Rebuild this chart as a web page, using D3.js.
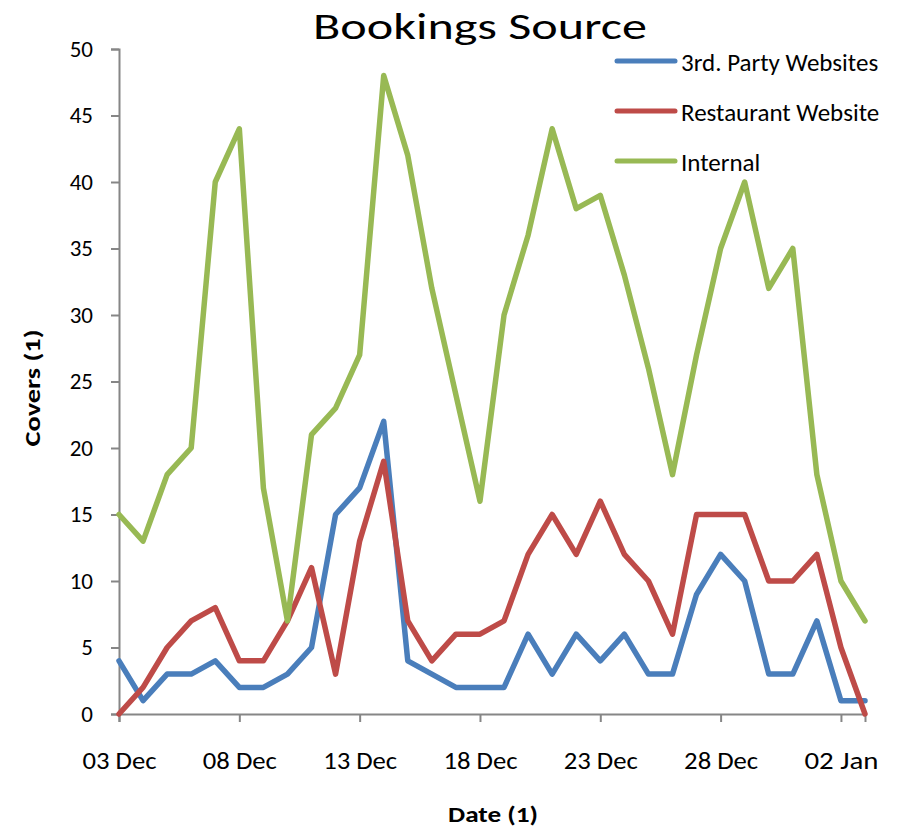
<!DOCTYPE html>
<html>
<head>
  <meta charset="utf-8">
  <title>Bookings Source</title>
  <style>
    * { padding: 0; margin: 0; }
    body { background: #fff; font-family: Calibri, Carlito, Lato, sans-serif; }
  </style>
</head>
<body>
  <svg id="svg"></svg>
  <script src="https://cdnjs.cloudflare.com/ajax/libs/d3/7.8.5/d3.min.js"></script>
  <script>
    // 03 Dec .. 03 Jan, one value per day
    const startDate = new Date(2012, 11, 3);
    const thirdParty = [4, 1, 3, 3, 4, 2, 2, 3, 5, 15, 17, 22, 4, 3, 2, 2, 2, 6, 3, 6, 4, 6, 3, 3, 9, 12, 10, 3, 3, 7, 1, 1];
    const restaurant = [0, 2, 5, 7, 8, 4, 4, 7, 11, 3, 13, 19, 7, 4, 6, 6, 7, 12, 15, 12, 16, 12, 10, 6, 15, 15, 15, 10, 10, 12, 5, 0];
    const internal = [15, 13, 18, 20, 40, 44, 17, 7, 21, 23, 27, 48, 42, 32, 24, 16, 30, 36, 44, 38, 39, 33, 26, 18, 27, 35, 40, 32, 35, 18, 10, 7];
    const seriesNames = ['3rd. Party Websites', 'Restaurant Website', 'Internal'];
    const seriesColors = ['#4a7ebb', '#be4b48', '#98b954'];
    const yTicks = [0, 5, 10, 15, 20, 25, 30, 35, 40, 45, 50];

    const width = 901, height = 830;
    const margin = { top: 49, right: 36, bottom: 116, left: 119 };
    const font = 'Calibri, Carlito, Lato, sans-serif';

    const dates = internal.map((d, i) => d3.timeDay.offset(startDate, i));
    const series = [thirdParty, restaurant, internal];

    const svg = d3.select('#svg').attr('width', width).attr('height', height);

    const x = d3.scaleTime()
      .domain([dates[0], dates[dates.length - 1]])
      .range([margin.left, width - margin.right]);
    const y = d3.scaleLinear()
      .domain([0, 50])
      .range([height - margin.bottom, margin.top]);

    const xAxis = d3.axisBottom(x)
      .tickValues(d3.timeDay.range(dates[0], dates[dates.length - 1], 5))
      .tickFormat(d3.timeFormat('%d %b'))
      .tickSize(8)
      .tickPadding(30);
    const yAxis = d3.axisLeft(y).tickValues(yTicks).tickSize(8).tickPadding(18);

    const gx = svg.append('g')
      .attr('transform', `translate(0, ${height - margin.bottom})`)
      .call(xAxis);
    const gy = svg.append('g')
      .attr('transform', `translate(${margin.left}, 0)`)
      .call(yAxis);

    [gx, gy].forEach(g => {
      g.select('.domain').attr('stroke', '#868686').attr('stroke-width', 2);
      g.selectAll('.tick line').attr('stroke', '#868686').attr('stroke-width', 2);
      g.selectAll('.tick text')
        .attr('fill', '#000')
        .style('font-family', font)
        .style('font-size', '23px');
    });
    gx.selectAll('.tick text')
      .style('font-size', '24px')
      .attr('textLength', 74)
      .attr('lengthAdjust', 'spacingAndGlyphs');

    const line = d3.line()
      .x((d, i) => x(dates[i]))
      .y(d => y(d));

    series.forEach((s, k) => {
      svg.append('path')
        .datum(s)
        .attr('fill', 'none')
        .attr('stroke', seriesColors[k])
        .attr('stroke-width', 5.5)
        .attr('stroke-linejoin', 'round')
        .attr('stroke-linecap', 'round')
        .attr('d', line);
    });

    // title
    svg.append('text')
      .attr('x', 480)
      .attr('y', 39)
      .attr('text-anchor', 'middle')
      .attr('textLength', 334)
      .attr('lengthAdjust', 'spacingAndGlyphs')
      .style('font-size', '36px')
      .text('Bookings Source');

    // axis titles
    svg.append('text')
      .attr('x', 493)
      .attr('y', 822)
      .attr('text-anchor', 'middle')
      .attr('textLength', 90)
      .attr('lengthAdjust', 'spacingAndGlyphs')
      .style('font-size', '22px')
      .style('font-weight', 'bold')
      .text('Date (1)');

    svg.append('text')
      .attr('transform', 'translate(40, 388) rotate(-90)')
      .attr('text-anchor', 'middle')
      .attr('textLength', 117)
      .attr('lengthAdjust', 'spacingAndGlyphs')
      .style('font-size', '22px')
      .style('font-weight', 'bold')
      .text('Covers (1)');

    // legend
    const legend = svg.append('g').attr('transform', 'translate(617, 61)');
    seriesNames.forEach((name, k) => {
      const item = legend.append('g').attr('transform', `translate(0, ${k * 50})`);
      item.append('line')
        .attr('x1', 0).attr('x2', 58)
        .attr('stroke', seriesColors[k])
        .attr('stroke-width', 5)
        .attr('stroke-linecap', 'round');
      item.append('text')
        .attr('x', 64)
        .attr('y', 10)
        .style('font-size', '25px')
        .text(name);
    });
  </script>
</body>
</html>
